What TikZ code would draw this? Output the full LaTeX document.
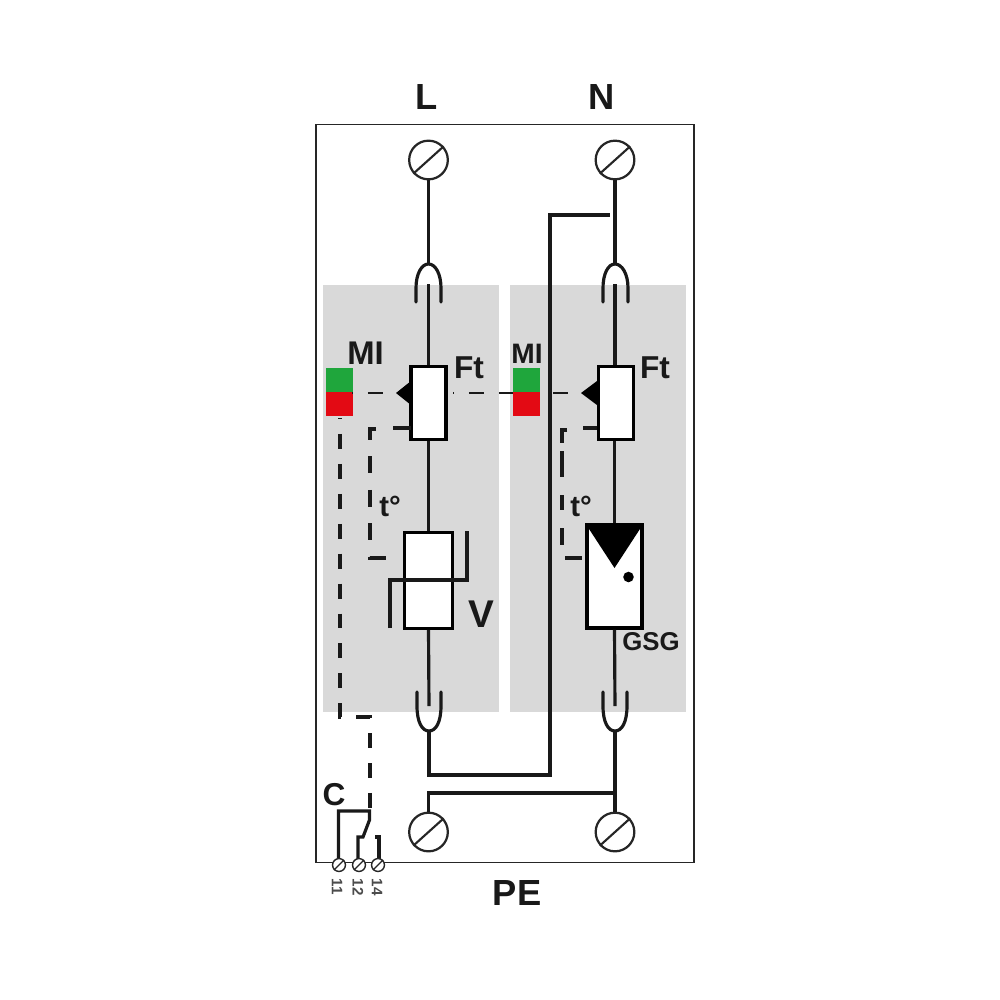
\documentclass[tikz,border=0pt]{standalone}
\usepackage{fontspec}
\setmainfont{Liberation Sans}
\usetikzlibrary{calc}
\definecolor{panel}{HTML}{D9D9D9}
\definecolor{migreen}{HTML}{1FA63C}
\definecolor{mired}{HTML}{E30A14}
\newcommand{\lbl}[1]{\fontsize{#1}{#1}\selectfont\bfseries}
\tikzset{
  wire/.style={line width=2.7pt,draw=black!90},
  thin wire/.style={line width=2.7pt,draw=black!90},
  dash wire/.style={line width=2.7pt,draw=black!90,dash pattern=on 12.77pt off 12.77pt},
  dash flat/.style={line width=1.9pt,draw=black!90,dash pattern=on 12.77pt off 12.77pt},
  dash long/.style={line width=2.7pt,draw=black!90,dash pattern=on 14.5pt off 14pt},
  terminal/.style={circle,draw=black!85,line width=1.9pt,fill=white,minimum size=33pt,inner sep=0pt},
  small terminal/.style={circle,draw=black!85,line width=1.2pt,fill=white,minimum size=11pt,inner sep=0pt},
  element/.style={rectangle,draw=black,line width=2.7pt,fill=white,inner sep=0pt},
  panelbox/.style={rectangle,fill=panel,inner sep=0pt},
  lamp/.style={rectangle,inner sep=0pt,minimum width=23pt,minimum height=20.5pt},
  txt/.style={inner sep=0pt,text=black!90}
}
\begin{document}
\begin{tikzpicture}[x=0.03cm,y=-0.03cm]
\useasboundingbox (0,0) rectangle (1000,1000);
\fill[white] (0,0) rectangle (1000,1000);
% outer
\node[rectangle,draw=black!85,line width=1.1pt,inner sep=0pt,minimum width=322.5pt,minimum height=630pt] (frame) at (505,493.5) {};
% panels
\node[panelbox,minimum width=149.7pt,minimum height=364pt] (panelL) at (411,498.5) {};
\node[panelbox,minimum width=149.7pt,minimum height=364pt] (panelR) at (598,498.5) {};
% fixed points
\coordinate (fuLtop) at (428.5,264);
\coordinate (fuLtopin) at (428.5,284);
\coordinate (fuRtop) at (615,264);
\coordinate (fuRtopin) at (615,284);
\coordinate (fuLbot) at (429,731);
\coordinate (fuLbotin) at (429,706);
\coordinate (fuRbot) at (615,731);
\coordinate (fuRbotin) at (615,706);
% terminals
\node[terminal] (tL) at (428.5,160) {};
\node[terminal] (tN) at (615,160) {};
\node[terminal] (tPEl) at (428.5,832) {};
\node[terminal] (tPEr) at (615,832) {};
\foreach \n in {tL,tN,tPEl,tPEr}{
  \draw[line width=1.8pt,draw=black!85] (\n.222) -- (\n.42);
}
% elements
\node[element,minimum width=30pt,minimum height=62.5pt] (ftL) at (428.5,403) {};
\node[element,minimum width=30pt,minimum height=62.5pt] (ftR) at (616,403) {};
\node[element,minimum width=41.5pt,minimum height=81.5pt] (var) at (428.5,580.5) {};
\node[element,minimum width=47pt,minimum height=88pt] (gsg) at (614.5,576.5) {};
% lamps
\node[lamp,fill=migreen] (gL) at (339.5,380) {};
\node[lamp,fill=mired] (rL) at (339.5,404) {};
\node[lamp,fill=migreen] (gR) at (526.5,380) {};
\node[lamp,fill=mired] (rR) at (526.5,404) {};
% wires L
\draw[wire] (tL.south) -- (fuLtop);
\draw[wire] (fuLtopin) -- (fuLtopin |- ftL.north);
\draw[wire] (ftL.south) -- (var.north);
\draw[wire] (var.south) -- (fuLbotin);
\draw[wire] (fuLbot) -- (429,775) -- (550,775) -- (550,215) -- (610,215);
% wires N
\draw[wire] (tN.south) -- (fuRtop);
\draw[wire] (fuRtopin) -- (fuRtopin |- ftR.north);
\draw[wire] (gsg.north |- ftR.south) -- (gsg.north);
\draw[wire] (gsg.south) -- (fuRbotin);
\draw[wire] (fuRbot) -- (tPEr.north);
\draw[wire] (tPEl.north) -- (428.5,793) -- (615,793);
% forks
\foreach \c/\xa/\xb in {fuLtop/416/441,fuRtop/603/628}{
  \draw[wire,line cap=round] (\xa,302) -- (\xa,288) .. controls (\xa,274) and ($(\c)+(-7,0)$) .. (\c) .. controls ($(\c)+(7,0)$) and (\xb,274) .. (\xb,288) -- (\xb,302);
}
\foreach \c/\xa/\xb in {fuLbot/417/441,fuRbot/603/627}{
  \draw[wire,line cap=round] (\xa,692) -- (\xa,706) .. controls (\xa,722) and ($(\c)+(-7,0)$) .. (\c) .. controls ($(\c)+(7,0)$) and (\xb,722) .. (\xb,706) -- (\xb,692);
}
% varistor bar
\draw[thin wire] (390,628) -- (390,580) -- (467,580) -- (467,531);
% gsg symbol
\fill[black] (gsg.north west) -- (gsg.north east) -- (614.5,568) -- cycle;
\node[circle,fill=black,inner sep=0pt,minimum size=9pt] (gdot) at (628.5,577) {};
% triangles
\coordinate (triL) at (396,393);
\coordinate (triR) at (581,393);
\fill[black] (triL) -- (411,381) -- (411,405) -- cycle;
\fill[black] (triR) -- (597,381) -- (597,405) -- cycle;
% dashed links
\draw[dash flat,dash phase=11.9pt] (352,393) -- (triL);
\draw[dash flat] (553,393) -- (triR);
\draw[dash flat,dash phase=11.9pt] (453,393) -- (rR.west |- triL);
\draw[thin wire] (411,428) -- (393,428);
\draw[dash long] (376,429) -- (370,429) -- (370,558) -- (387,558);
\draw[thin wire] (597,428) -- (583,428);
\draw[thin wire] (567,430) -- (562,430) -- (562,443) (562,451) -- (562,477) (562,495) -- (562,510) (562,528) -- (562,545) (565,558) -- (582,558);
\draw[dash wire,dash phase=11.9pt] (340,418) -- (340,717) -- (370,717) -- (370,808);
% aux contact
\draw[thin wire] (338.5,860) -- (338.5,811) -- (369.5,811) -- (369.5,820) -- (363,837) -- (358,837) -- (358,860);
\draw[thin wire] (375,837) -- (379,837) -- (379,860);
\foreach \n/\p in {s11/339,s12/359,s14/378}{
  \node[small terminal] (\n) at (\p,865) {};
  \draw[line width=1.1pt,draw=black!85] (\n.225) -- (\n.45);
}
% labels
\node[txt] (lL) at (427,97) {\lbl{31}L};
\node[txt] (lN) at (602,97) {\lbl{31}N};
\node[txt] (lPE) at (517,893) {\lbl{31}PE};
\node[txt] (lC) at (334,795) {\lbl{27}C};
\node[txt] (lMI1) at (365.5,353) {\lbl{28}MI};
\node[txt] (lMI2) at (527,354) {\lbl{24}MI};
\node[txt] (lFt1) at (469,368) {\lbl{27}Ft};
\node[txt] (lFt2) at (655,368) {\lbl{27}Ft};
\node[txt] (lt1) at (390,506) {\lbl{25}t°};
\node[txt] (lt2) at (581,506) {\lbl{25}t°};
\node[txt] (lV) at (481,614) {\lbl{33}V};
\node[txt] (lG) at (651,642) {\lbl{22}GSG};
\node[txt,rotate=-90,text=black!70] (n11) at (337,887) {\lbl{13}11};
\node[txt,rotate=-90,text=black!70] (n12) at (358,887) {\lbl{13}12};
\node[txt,rotate=-90,text=black!70] (n14) at (377,887) {\lbl{13}14};
\end{tikzpicture}
\end{document}
